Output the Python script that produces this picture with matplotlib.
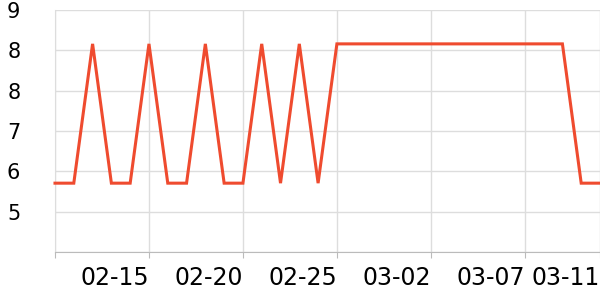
import matplotlib
matplotlib.use("Agg")
import matplotlib.pyplot as plt

# daily dates (category axis) and values
dates = ["02-10", "02-11", "02-12", "02-13", "02-14", "02-15", "02-16", "02-17",
         "02-18", "02-19", "02-20", "02-21", "02-22", "02-23", "02-24", "02-25",
         "02-26", "02-27", "02-28", "03-01", "03-02", "03-03", "03-04", "03-05",
         "03-06", "03-07", "03-08", "03-09", "03-10", "03-11"]
values = [5.78, 5.78, 8.37, 5.78, 5.78, 8.37, 5.78, 5.78, 8.37, 5.78,
          5.78, 8.37, 5.78, 8.37, 5.78, 8.37, 8.37, 8.37, 8.37, 8.37,
          8.37, 8.37, 8.37, 8.37, 8.37, 8.37, 8.37, 8.37, 5.78, 5.78]
tick_labels = ["02-15", "02-20", "02-25", "03-02", "03-07", "03-11"]
y_ticks = [4.5, 5.25, 6.0, 6.75, 7.5, 8.25, 9.0]

fig = plt.figure(figsize=(6, 3), dpi=100)
ax = fig.add_axes([55 / 600, 48 / 300, 545 / 600, 242 / 300])

x = list(range(len(dates)))
ax.plot(x, values, color="#ef4b2f", linewidth=2.2, solid_joinstyle="miter", clip_on=False, zorder=3)

ax.set_xlim(0, len(dates) - 1)
ax.set_ylim(y_ticks[0], y_ticks[-1])

xt = [0] + [dates.index(t) for t in tick_labels]
ax.set_xticks(xt)
ax.set_xticklabels([""] + tick_labels, ha="right", fontsize=17)
ax.set_yticks(y_ticks)
ax.set_yticklabels([""] + [f"{round(v)}" for v in y_ticks[1:]], fontsize=15)

ax.grid(True, color="#dddddd", linewidth=1)
ax.set_axisbelow(True)
for s in ["top", "right"]:
    ax.spines[s].set_visible(False)
ax.spines["left"].set_color("#dddddd")
ax.spines["bottom"].set_color("#bbbbbb")
ax.tick_params(axis="x", length=4, color="#bbbbbb", pad=6)
ax.tick_params(axis="y", length=0, pad=25)

fig.savefig("out.png", dpi=100)
